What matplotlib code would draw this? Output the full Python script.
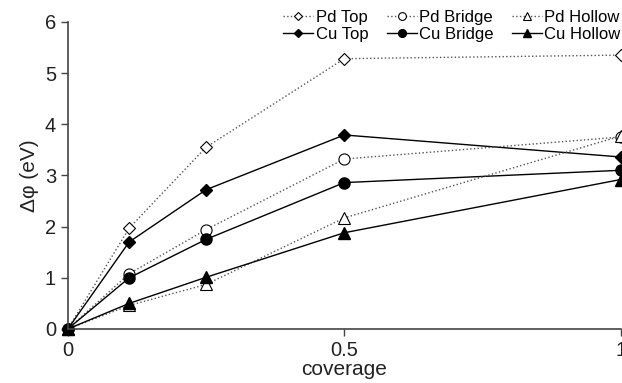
import matplotlib
matplotlib.use("Agg")
import matplotlib.pyplot as plt

plt.rcParams['font.family'] = ['Liberation Sans', 'DejaVu Sans']

coverage = [0, 0.111, 0.25, 0.5, 1.0]
pd_top = [0, 1.97, 3.55, 5.28, 5.35]
cu_top = [0, 1.70, 2.72, 3.79, 3.36]
pd_bridge = [0, 1.08, 1.94, 3.32, 3.75]
cu_bridge = [0, 1.00, 1.75, 2.86, 3.10]
pd_hollow = [0, 0.46, 0.87, 2.17, 3.77]
cu_hollow = [0, 0.50, 1.01, 1.88, 2.92]

fig = plt.figure(figsize=(6.22, 3.83), dpi=100)
ax = fig.add_axes([0.109, 0.141, 0.889, 0.802])

dot = dict(color='#555555', linestyle=':', linewidth=1.0, markeredgecolor='black',
           markerfacecolor='white', markeredgewidth=0.8, clip_on=False)
sol = dict(color='black', linestyle='-', linewidth=1.0, markeredgecolor='black',
           markerfacecolor='black', clip_on=False)

ax.plot(coverage, pd_top, marker='D', markersize=6.5, label='Pd Top', **dot)
ax.plot(coverage, cu_top, marker='D', markersize=6.5, label='Cu Top', **sol)
ax.plot(coverage, pd_bridge, marker='o', markersize=8, label='Pd Bridge', **dot)
ax.plot(coverage, cu_bridge, marker='o', markersize=8, label='Cu Bridge', **sol)
ax.plot(coverage, pd_hollow, marker='^', markersize=8.5, label='Pd Hollow', **dot)
ax.plot(coverage, cu_hollow, marker='^', markersize=8.5, label='Cu Hollow', **sol)

ax.set_xlim(0, 1)
ax.set_ylim(0, 6)
ax.set_xticks([0, 0.5, 1])
ax.set_xticklabels(['0', '0.5', '1'])
ax.set_yticks(range(7))

for s in ['top', 'right']:
    ax.spines[s].set_visible(False)
for s in ['left', 'bottom']:
    ax.spines[s].set_color('#444444')
    ax.spines[s].set_linewidth(1.2)
ax.tick_params(direction='out', length=5, width=1, color='#444444',
               labelsize=14.5, labelcolor='#222222')

ax.set_xlabel('coverage', fontsize=15, color='#222222', labelpad=0)
ax.set_ylabel('Δφ (eV)', fontsize=15, color='#222222', labelpad=4)

leg = ax.legend(ncol=3, loc='upper right', bbox_to_anchor=(1.012, 1.06),
                frameon=False, fontsize=12, handlelength=1.8, handletextpad=0.15,
                columnspacing=1.1, labelspacing=0.1, borderaxespad=0,
                markerscale=0.7)

fig.savefig('out.png', dpi=100)
